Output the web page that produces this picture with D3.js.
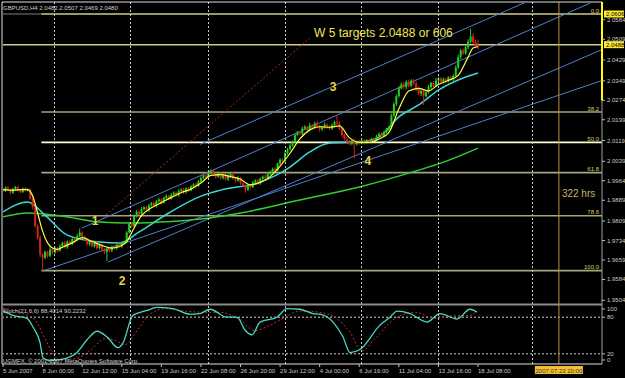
<!DOCTYPE html>
<html><head><meta charset="utf-8">
<script src="https://cdn.jsdelivr.net/npm/d3@7"></script>
<style>
body{margin:0;background:#000;overflow:hidden}
svg{display:block}
text{font-family:"Liberation Sans",Arial,sans-serif}
</style>
</head><body>
<svg id="c" width="625" height="378"></svg>
<script>
// ---------------- DATA ----------------
const titleText = "GBPUSD,H4  2.0482 2.0507 2.0469 2.0480";
const firstOpen = 1.9930;
const closes = [
1.9925,1.9938,1.9930,1.9918,1.9932,1.9940,1.9926,1.9921,1.9934,1.9928,
1.9931,1.9895,1.9862,1.9790,1.9745,1.9680,1.9668,1.9690,1.9675,1.9700,
1.9688,1.9705,1.9695,1.9712,1.9725,1.9708,1.9730,1.9722,1.9740,1.9735,
1.9752,1.9765,1.9748,1.9738,1.9720,1.9732,1.9712,1.9725,1.9705,1.9718,
1.9700,1.9690,1.9702,1.9695,1.9710,1.9705,1.9718,1.9712,1.9725,1.9730,
1.9765,1.9800,1.9790,1.9830,1.9845,1.9835,1.9855,1.9862,1.9850,1.9870,
1.9878,1.9868,1.9885,1.9892,1.9880,1.9898,1.9905,1.9895,1.9910,1.9918,
1.9908,1.9925,1.9930,1.9920,1.9935,1.9928,1.9942,1.9950,1.9944,1.9962,
1.9975,1.9985,1.9978,1.9995,2.0002,1.9990,1.9980,1.9992,1.9975,1.9985,
1.9970,1.9982,1.9990,1.9972,1.9965,1.9975,1.9955,1.9945,1.9930,1.9948,
1.9940,1.9958,1.9965,1.9955,1.9972,1.9980,1.9975,1.9990,1.9998,2.0010,
2.0005,2.0030,2.0045,2.0040,2.0070,2.0085,2.0100,2.0115,2.0140,2.0150,
2.0145,2.0165,2.0172,2.0160,2.0178,2.0168,2.0185,2.0175,2.0162,2.0170,
2.0180,2.0172,2.0165,2.0178,2.0190,2.0185,2.0165,2.0140,2.0125,2.0115,
2.0108,2.0118,2.0105,2.0115,2.0110,2.0118,2.0112,2.0120,2.0115,2.0125,
2.0122,2.0135,2.0145,2.0138,2.0152,2.0162,2.0170,2.0215,2.0260,2.0290,
2.0320,2.0335,2.0325,2.0345,2.0330,2.0350,2.0340,2.0318,2.0300,2.0310,
2.0290,2.0305,2.0325,2.0340,2.0330,2.0350,2.0358,2.0345,2.0355,2.0348,
2.0362,2.0355,2.0368,2.0400,2.0440,2.0465,2.0455,2.0478,2.0500,2.0520,
2.0498,2.0482,2.0480];
// wick lengths in pips above max(open,close) / below min(open,close)
const upWick = [
5,4,6,3,5,4,6,3,4,5, 4,3,5,4,6,8,5,6,4,7, 5,6,4,7,5,6,4,5,7,4, 6,15,5,4,6,5,4,7,5,4,
6,5,4,6,5,7,4,5,6,4, 6,5,7,4,6,5,8,4,6,5, 4,7,5,6,4,5,7,4,6,5, 4,6,5,7,4,5,6,4,8,5,
6,4,7,5,8,6,5,7,4,6, 5,7,4,6,5,8,4,6,5,7, 4,6,5,7,4,5,8,4,6,5, 7,4,6,5,8,6,5,4,7,6,
5,8,6,4,9,5,7,10,5,6, 8,5,6,7,5,25,8,6,5,7, 6,5,8,4,6,5,7,4,6,5, 4,6,5,7,4,6,5,8,7,6,
9,7,10,6,8,5,7,6,8,5, 7,6,8,5,7,10,6,5,7,6, 5,7,6,8,10,7,8,6,9,30, 12,10,25];
const loWick = [
4,5,3,6,4,5,3,6,4,5, 5,4,8,6,7,10,50,6,8,5, 7,5,6,4,7,5,6,4,5,6, 4,5,7,6,5,8,4,6,7,5,
6,8,35,6,5,4,7,5,6,4, 5,4,6,5,7,4,6,5,4,6, 5,4,6,5,7,4,5,6,4,5, 6,5,4,7,5,6,4,5,6,4,
5,6,4,7,5,6,8,5,7,6, 5,7,6,4,8,5,6,7,12,5, 6,4,7,5,6,4,5,7,4,6, 5,6,4,7,5,6,4,5,6,4,
6,5,7,4,6,8,5,7,9,6, 5,7,6,5,8,6,7,8,6,9, 7,8,55,6,7,5,8,6,5,7, 6,5,7,4,6,5,7,6,5,8,
6,5,7,8,6,7,8,9,7,10, 35,6,5,7,6,5,8,6,5,7, 6,5,7,5,6,8,7,6,8,7, 9,8,11];

// moving averages (sampled: bar index, price)
const fastMABars = [0,4,8,10,12,14,16,18,20,22,24,28,32,36,40,44,48,50,52,54,56,60,64,68,72,76,80,84,88,92,96,100,104,108,112,116,120,124,128,132,136,140,144,148,152,156,160,164,168,172,176,180,184,188,190,192];
const fastMAVals = [1.9930,1.9928,1.9930,1.9930,1.9905,1.9840,1.9770,1.9725,1.9705,1.9700,1.9708,1.9725,1.9745,1.9730,1.9715,1.9705,1.9715,1.9730,1.9765,1.9800,1.9830,1.9860,1.9880,1.9900,1.9918,1.9932,1.9955,1.9985,1.9988,1.9980,1.9970,1.9948,1.9958,1.9980,2.0020,2.0070,2.0125,2.0160,2.0172,2.0170,2.0175,2.0130,2.0112,2.0112,2.0125,2.0150,2.0240,2.0310,2.0320,2.0310,2.0335,2.0350,2.0370,2.0440,2.0475,2.0480];
const midMABars = [0,10,17,26,39,47,55,67,80,88,104,116,124,132,144,152,160,168,176,184,192];
const midMAVals = [1.9844,1.9882,1.9832,1.9755,1.9728,1.9724,1.9767,1.9840,1.9905,1.9928,1.9959,2.0017,2.0075,2.0109,2.0113,2.0132,2.0210,2.0256,2.0313,2.0352,2.0379];
const slowMABars = [0,10,26,39,51,63,80,96,120,144,168,177,192];
const slowMAVals = [1.9825,1.9840,1.9825,1.9805,1.9801,1.9805,1.9817,1.9840,1.9890,1.9940,2.0005,2.0032,2.0090];

// Fibonacci retracement
const fibHigh = 2.0606, fibLow = 1.9618, fibStartBar = 15.5;
const fibLevels = [0, 38.2, 50, 61.8, 78.6, 100];
const fibLabels = ["0.0","38.2","50.0","61.8","78.6","100.0"];
const targetLine = 2.0488;

// trend / channel lines: [bar1, price1, bar2, price2]
const channelLines = [
  [31.9, 1.9782, 237.3, 2.0648],
  [42.4, 1.9651, 242.1, 2.0469],
  [17.0, 1.9620, 242.1, 2.0350],
  [79.6, 2.0104, 213.8, 2.0662]
];
const redDotLine = [39.2, 1.9813, 124.1, 2.0514];

// wave labels
const waveLabels = ["1","2","3","4"];
const waveBars = [37.2, 48.1, 133.4, 147.5];
const wavePrices = [1.9793, 1.9564, 2.0308, 2.0023];

// axes
const priceTicks = [2.0584,2.0509,2.0429,2.0349,2.0274,2.0199,2.0119,2.0039,1.9964,1.9889,1.9809,1.9734,1.9659,1.9584,1.9504];
const timeLabels = ["5 Jun 2007","8 Jun 00:00","12 Jun 12:00","15 Jun 04:00","19 Jun 16:00","22 Jun 08:00","26 Jun 20:00","29 Jun 12:00","4 Jul 00:00","6 Jul 16:00","11 Jul 04:00","13 Jul 16:00","18 Jul 08:00"];
const timeLabelBars = [0,16,32,48,64,80,96,112,128,144,160,176,192];
const separatorBars = [20.6, 51.3, 82.9, 114.0, 144.7, 175.8, 213.8];
const futureBar = 224.7, futureLabel = "2007.07.23 20:00", hoursLabel = "322 hrs";

// stochastic
const stochTitle = "Stoch(21,6,6) 88.4014 90.2232";
const copyright = "UGMFX, \u00a9 2001-2007 MetaQuotes Software Corp.";
const stochKBars = [0,4,9.7,12.1,15,16.2,19,25.9,29.9,34,38,42,46.5,48.5,52.5,58.2,62.2,68.7,75.6,79.6,83.7,90.5,94.6,97.8,100.6,103.9,110.7,114.8,120,125.3,128.1,133.4,137.4,140.3,144.3,152.4,156.4,159.3,164.5,171.4,176.6,183.5,188.8,191.6];
const stochKVals = [90,83,78,64,38,13,9,13,22,43,57,48,30,38,83,91,96,94,85,86,93,80,80,59,51,72,80,94,93,86,85,72,48,22,27,67,80,90,86,72,86,77,93,88.4];
const stochDBars = [0,6.9,13,17,20.2,23,29.1,35.2,41.2,45.3,49.3,54.6,59.4,65.5,73.6,81.6,87.7,95.8,101.9,107.1,114,120,128.1,134.2,140.3,145.1,150.4,158.5,166.5,174.6,180.7,188.8,191.6];
const stochDVals = [95,88,75,45,20,10,12,25,45,42,35,60,85,94,90,88,88,76,58,65,80,90,88,80,55,25,45,78,88,78,82,83,90.2];
const stochLevels = [80, 20];
const stochAxis = [100, 80, 20, 0];

// ---------------- DRAWING ----------------
const svg = d3.select("#c");
svg.append("rect").attr("width",625).attr("height",378).attr("fill","#000");

const x = d3.scaleLinear().domain([0,192]).range([3,478]);
const y = d3.scaleLinear().domain([1.9659,2.0429]).range([260,60]);
const ys = d3.scaleLinear().domain([0,100]).range([366,305]);

const L = 2, R = 602, T = 2, MB = 304, SB = 364;

const defs = svg.append("defs");
defs.append("clipPath").attr("id","mainClip").append("rect").attr("x",L+1).attr("y",T+1).attr("width",R-L-1).attr("height",MB-T-2);
defs.append("clipPath").attr("id","subClip").append("rect").attr("x",L+1).attr("y",MB+1).attr("width",R-L-1).attr("height",SB-MB-1);

const main = svg.append("g").attr("clip-path","url(#mainClip)");
const sub = svg.append("g").attr("clip-path","url(#subClip)");

// vertical dotted separators
separatorBars.forEach(b=>{
  svg.append("line").attr("x1",Math.round(x(b))+0.5).attr("x2",Math.round(x(b))+0.5)
    .attr("y1",T).attr("y2",SB).attr("stroke","#c8c8c8").attr("stroke-dasharray","2,2");
});
// future vertical line
svg.append("line").attr("x1",x(futureBar)).attr("x2",x(futureBar)).attr("y1",T).attr("y2",SB)
  .attr("stroke","#c88a40").attr("stroke-width",1);

// fib & target lines
main.append("line").attr("x1",L).attr("x2",x(fibStartBar)).attr("y1",y(fibHigh)).attr("y2",y(fibHigh))
  .attr("stroke","#555550").attr("stroke-width",1.5);
fibLevels.forEach((lv,i)=>{
  const p = fibHigh - (fibHigh-fibLow)*lv/100;
  const col = lv===50 ? "#fffcd8" : (lv===0 ? "#cfcd8a" : "#a6a47a");
  main.append("line").attr("x1",x(fibStartBar)).attr("x2",R).attr("y1",y(p)).attr("y2",y(p))
    .attr("stroke",col).attr("stroke-width",1.6);
  svg.append("text").attr("x",R-3).attr("y",y(p)-1.5).attr("text-anchor","end")
    .attr("font-size",6).attr("fill","#d8cc60").text(fibLabels[i]);
});
main.append("line").attr("x1",L).attr("x2",R).attr("y1",y(targetLine)).attr("y2",y(targetLine))
  .attr("stroke","#cfcd8a").attr("stroke-width",1.6);

// channel lines
channelLines.forEach(l=>{
  main.append("line").attr("x1",x(l[0])).attr("y1",y(l[1])).attr("x2",x(l[2])).attr("y2",y(l[3]))
    .attr("stroke","#4f7fcf").attr("stroke-width",1);
});
main.append("line").attr("x1",x(redDotLine[0])).attr("y1",y(redDotLine[1])).attr("x2",x(redDotLine[2])).attr("y2",y(redDotLine[3]))
  .attr("stroke","#b02828").attr("stroke-width",1).attr("stroke-dasharray","2,2");

// slow / mid MA
const maLine = (bars, vals) => d3.line().x((d,i)=>x(bars[i])).y(d=>y(d)).curve(d3.curveMonotoneX)(vals);
main.append("path").attr("d",maLine(slowMABars,slowMAVals)).attr("fill","none").attr("stroke","#2ed02e").attr("stroke-width",1.5);
main.append("path").attr("d",maLine(midMABars,midMAVals)).attr("fill","none").attr("stroke","#3fd6d6").attr("stroke-width",1.5);

// candles
const cg = main.append("g");
closes.forEach((c,i)=>{
  const o = i===0 ? firstOpen : closes[i-1];
  const hi = Math.max(o,c) + upWick[i]/10000;
  const lo = Math.min(o,c) - loWick[i]/10000;
  const col = c>=o ? "#22d022" : "#d42020";
  const cx = x(i);
  cg.append("line").attr("x1",cx).attr("x2",cx).attr("y1",y(hi)).attr("y2",y(lo)).attr("stroke",col).attr("stroke-width",1);
  const top = y(Math.max(o,c)), bot = y(Math.min(o,c));
  cg.append("rect").attr("x",cx-1).attr("width",2).attr("y",top).attr("height",Math.max(1,bot-top)).attr("fill",col);
});

// fast MA
main.append("path").attr("d",maLine(fastMABars,fastMAVals)).attr("fill","none").attr("stroke","#ffff3a").attr("stroke-width",1.2);

// wave labels
waveLabels.forEach((t,i)=>{
  main.append("text").attr("x",x(waveBars[i])).attr("y",y(wavePrices[i])).attr("text-anchor","middle")
    .attr("font-size",12).attr("font-weight","bold").attr("fill","#e6d24a").text(t);
});
// target text
main.append("text").attr("x",314).attr("y",37).attr("font-size",12).attr("fill","#f2e45a").text("W 5 targets 2.0488 or 606");
main.append("text").attr("x",x(futureBar)+3).attr("y",197).attr("font-size",10).attr("fill","#c8b468").text(hoursLabel);

// title
svg.append("text").attr("x",3).attr("y",10).attr("font-size",6).attr("fill","#d0d0d0").text(titleText);

// frame
svg.append("line").attr("x1",L).attr("x2",R).attr("y1",T).attr("y2",T).attr("stroke","#e0e0e0");
svg.append("line").attr("x1",L).attr("x2",L).attr("y1",T).attr("y2",SB).attr("stroke","#e0e0e0");
svg.append("line").attr("x1",R).attr("x2",R).attr("y1",T).attr("y2",SB).attr("stroke","#a0a0a0");
svg.append("line").attr("x1",R).attr("x2",R).attr("y1",T).attr("y2",y(2.0274)).attr("stroke","#ffff00").attr("stroke-width",2);
svg.append("line").attr("x1",L).attr("x2",R).attr("y1",MB+0.5).attr("y2",MB+0.5).attr("stroke","#8c8c8c").attr("stroke-width",2);
svg.append("line").attr("x1",L).attr("x2",R).attr("y1",SB).attr("y2",SB).attr("stroke","#e0e0e0");

// price axis
priceTicks.forEach(p=>{
  const yy = Math.min(y(p), MB-3);
  svg.append("line").attr("x1",R).attr("x2",R+3).attr("y1",yy).attr("y2",yy).attr("stroke","#c0c0c0");
  svg.append("text").attr("x",R+5).attr("y",yy+2).attr("font-size",6).attr("fill","#c8c8c8").text(p.toFixed(4));
});
// highlighted price boxes
[fibHigh, targetLine].forEach(p=>{
  const yy = y(p);
  svg.append("rect").attr("x",R+2).attr("y",yy-3.5).attr("width",20).attr("height",7).attr("fill","#ffe830");
  svg.append("text").attr("x",R+4).attr("y",yy+2).attr("font-size",6).attr("fill","#000").text(p.toFixed(4));
});

// stochastic
stochLevels.forEach(v=>{
  sub.append("line").attr("x1",L).attr("x2",R).attr("y1",ys(v)).attr("y2",ys(v)).attr("stroke","#d0d0d0").attr("stroke-dasharray","2,2");
});
const sLine = (bars, vals) => d3.line().x((d,i)=>x(bars[i])).y(d=>ys(d)).curve(d3.curveMonotoneX)(vals);
sub.append("path").attr("d",sLine(stochDBars,stochDVals)).attr("fill","none").attr("stroke","#c03030").attr("stroke-dasharray","2,2");
sub.append("path").attr("d",sLine(stochKBars,stochKVals)).attr("fill","none").attr("stroke","#48d8c8").attr("stroke-width",1.3);
stochAxis.forEach(v=>{
  const yy = Math.max(309, Math.min(360, ys(v)));
  svg.append("line").attr("x1",R).attr("x2",R+3).attr("y1",yy).attr("y2",yy).attr("stroke","#c0c0c0");
  svg.append("text").attr("x",R+5).attr("y",yy+2).attr("font-size",6).attr("fill","#c8c8c8").text(v);
});
svg.append("text").attr("x",3).attr("y",313).attr("font-size",6).attr("fill","#d0d0d0").text(stochTitle);
svg.append("text").attr("x",3).attr("y",363).attr("font-size",6).attr("fill","#d0d0d0").text(copyright);

// time axis
timeLabels.forEach((t,i)=>{
  const xx = x(timeLabelBars[i]);
  svg.append("line").attr("x1",xx).attr("x2",xx).attr("y1",SB).attr("y2",SB+3).attr("stroke","#c0c0c0");
  svg.append("text").attr("x",xx).attr("y",373).attr("font-size",6).attr("fill","#c8c8c8").text(t);
});
const fx = x(futureBar);
svg.append("rect").attr("x",fx-24).attr("y",366).attr("width",48).attr("height",8).attr("fill","#f5c030");
svg.append("text").attr("x",fx).attr("y",372.5).attr("text-anchor","middle").attr("font-size",6).attr("fill","#303030").text(futureLabel);
</script>
</body></html>
